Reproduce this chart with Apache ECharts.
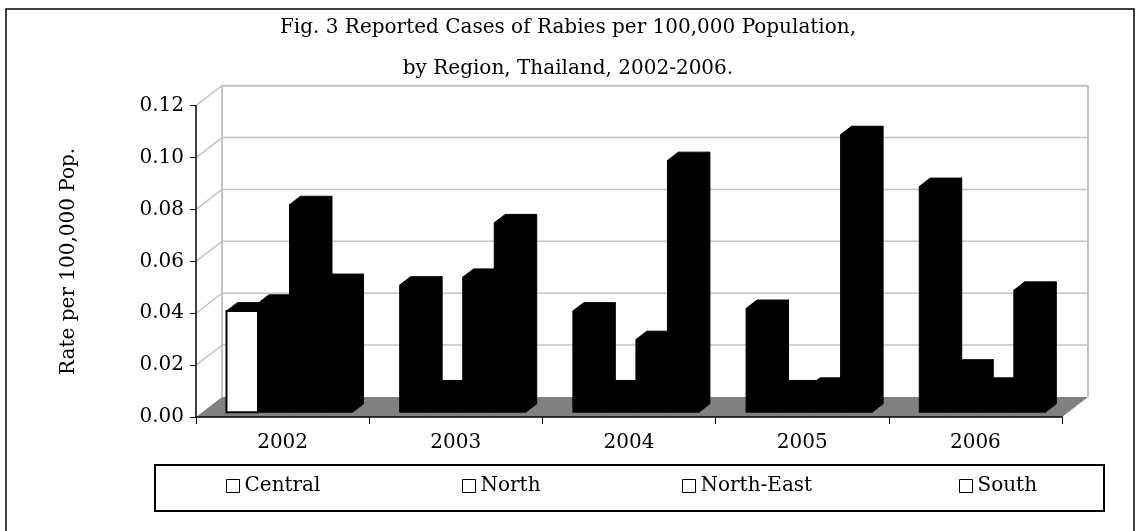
<!DOCTYPE html>
<html>
<head>
<meta charset="utf-8">
<script src="https://cdn.jsdelivr.net/npm/echarts@6/dist/echarts.min.js"></script>
<style>
  html, body { margin: 0; padding: 0; background: #fff; }
  #chart { width: 1136px; height: 531px; }
</style>
</head>
<body>
<div id="chart"></div>
<script>
// data
const years = ['2002', '2003', '2004', '2005', '2006'];
const central = [0.039, 0.049, 0.039, 0.040, 0.087];
const north = [0.042, 0.009, 0.009, 0.009, 0.017];
const northEast = [0.080, 0.052, 0.028, 0.010, 0.010];
const south = [0.050, 0.073, 0.097, 0.107, 0.047];
const regions = ['Central', 'North', 'North-East', 'South'];
const yTicks = [0, 0.02, 0.04, 0.06, 0.08, 0.10, 0.12];

const FONT = 'DejaVu Serif';
const DEPTH = [26, -20];        // full depth of the floor / back wall
const BAR_FRONT = 0.24;         // bars sit between these depth fractions
const BAR_BACK = 0.66;
const GROUP_START = 0.14;       // share of the category before the first bar
const BAR_W = 0.182;            // share of the category per bar
const LEGEND_LEFTS = [226, 462, 682, 959];

const chart = echarts.init(document.getElementById('chart'));

function toPairs(arr) {
  return arr.map((v, i) => [i, v]);
}

function wallItem(params, api) {
  const cs = params.coordSys;
  const v = api.value(1);
  const y = api.coord([0, v])[1];
  const xl = cs.x, xr = cs.x + cs.width;
  const kids = [];
  const grey = { stroke: '#c4c4c4', lineWidth: 1.5 };
  if (v === 0) {
    kids.push({
      type: 'polygon',
      shape: { points: [[xl, y], [xr, y], [xr + DEPTH[0], y + DEPTH[1]], [xl + DEPTH[0], y + DEPTH[1]]] },
      style: { fill: '#808080' }
    });
  } else {
    kids.push({ type: 'line', shape: { x1: xl + DEPTH[0], y1: y + DEPTH[1], x2: xr + DEPTH[0], y2: y + DEPTH[1] }, style: grey });
    kids.push({ type: 'line', shape: { x1: xl, y1: y, x2: xl + DEPTH[0], y2: y + DEPTH[1] }, style: grey });
  }
  if (v === yTicks[yTicks.length - 1]) {
    const y0 = api.coord([0, 0])[1];
    const wall = { stroke: '#c4c4c4', lineWidth: 2 };
    kids.push({ type: 'line', shape: { x1: xl + DEPTH[0], y1: y + DEPTH[1], x2: xl + DEPTH[0], y2: y0 + DEPTH[1] }, style: wall });
    kids.push({ type: 'line', shape: { x1: xr + DEPTH[0], y1: y + DEPTH[1], x2: xr + DEPTH[0], y2: y0 + DEPTH[1] }, style: wall });
    kids.push({ type: 'line', shape: { x1: xl + DEPTH[0], y1: y + DEPTH[1], x2: xr + DEPTH[0], y2: y + DEPTH[1] }, style: wall });
  }
  return { type: 'group', children: kids };
}

function barItem(slot, name) {
  return function (params, api) {
    const cat = api.value(0);
    const val = api.value(1);
    const yT = api.coord([cat, val])[1];
    const yB = api.coord([cat, 0])[1];
    const cx = api.coord([cat, 0])[0];
    const band = api.size([1, 0])[0];
    const x0 = cx - band / 2 + band * (GROUP_START + slot * BAR_W);
    const x1 = x0 + band * BAR_W;
    const f = [DEPTH[0] * BAR_FRONT, DEPTH[1] * BAR_FRONT];
    const b = [DEPTH[0] * BAR_BACK, DEPTH[1] * BAR_BACK];
    // the first Central bar is drawn hollow in the figure
    const hollow = name === 'Central' && years[cat] === '2002';
    const black = { fill: '#000', stroke: '#000', lineWidth: 1, lineJoin: 'miter' };
    return {
      type: 'group',
      children: [
        {
          type: 'polygon',
          shape: { points: [[x1 + f[0], yT + f[1]], [x1 + b[0], yT + b[1]], [x1 + b[0], yB + b[1]], [x1 + f[0], yB + f[1]]] },
          style: black
        },
        {
          type: 'polygon',
          shape: { points: [[x0 + f[0], yT + f[1]], [x0 + b[0], yT + b[1]], [x1 + b[0], yT + b[1]], [x1 + f[0], yT + f[1]]] },
          style: black
        },
        {
          type: 'polygon',
          shape: { points: [[x0 + f[0], yT + f[1]], [x1 + f[0], yT + f[1]], [x1 + f[0], yB + f[1]], [x0 + f[0], yB + f[1]]] },
          style: hollow ? { fill: '#fff', stroke: '#000', lineWidth: 2 } : black
        }
      ]
    };
  };
}

const seriesData = [central, north, northEast, south];

const option = {
  animation: false,
  backgroundColor: '#fff',
  title: {
    text: 'Fig. 3 Reported Cases of Rabies per 100,000 Population,\nby Region, Thailand, 2002-2006.',
    left: 'center',
    top: 7,
    padding: 0,
    textStyle: { fontFamily: FONT, fontSize: 20, fontWeight: 'normal', color: '#000', lineHeight: 41 }
  },
  legend: regions.map((name, i) => ({
    data: [{ name: name, itemStyle: { color: '#fff', borderColor: '#000', borderWidth: 1 } }],
    left: LEGEND_LEFTS[i],
    top: 476,
    padding: 0,
    icon: 'rect',
    itemWidth: 13,
    itemHeight: 13,
    selectedMode: false,
    textStyle: { fontFamily: FONT, fontSize: 20, color: '#000' }
  })),
  graphic: [
    { type: 'rect', shape: { x: 6, y: 9, width: 1128, height: 540 }, style: { fill: null, stroke: '#000', lineWidth: 1.5 }, z: 100 },
    { type: 'rect', shape: { x: 155, y: 465, width: 949, height: 46 }, style: { fill: null, stroke: '#000', lineWidth: 2 }, z: 100 }
  ],
  grid: { left: 196, top: 105.7, width: 866, height: 311.3 },
  xAxis: {
    type: 'category',
    data: years,
    z: 10,
    axisLine: { lineStyle: { color: '#000', width: 1.5 } },
    axisTick: { show: true, length: 7, lineStyle: { color: '#000' } },
    axisLabel: { fontFamily: FONT, fontSize: 20, color: '#000', margin: 16 },
    splitLine: { show: false }
  },
  yAxis: {
    type: 'value',
    min: 0,
    max: 0.12,
    interval: 0.02,
    z: 10,
    name: 'Rate per 100,000 Pop.',
    nameLocation: 'middle',
    nameGap: 117,
    nameTextStyle: { fontFamily: FONT, fontSize: 20, color: '#000' },
    axisLine: { show: true, lineStyle: { color: '#000', width: 1.5 } },
    axisTick: { show: true, length: 6, lineStyle: { color: '#000' } },
    axisLabel: { fontFamily: FONT, fontSize: 20, color: '#000', margin: 12, formatter: v => v.toFixed(2) },
    splitLine: { show: false }
  },
  series: [
    {
      type: 'custom',
      name: 'walls',
      silent: true,
      clip: false,
      z: 1,
      renderItem: wallItem,
      data: yTicks.map(v => [0, v])
    }
  ].concat(regions.map((name, i) => ({
    type: 'custom',
    name: name,
    clip: false,
    z: 2,
    itemStyle: { color: '#000' },
    renderItem: barItem(i, name),
    data: toPairs(seriesData[i])
  })))
};

chart.setOption(option);
window.addEventListener('resize', () => chart.resize());
</script>
</body>
</html>
